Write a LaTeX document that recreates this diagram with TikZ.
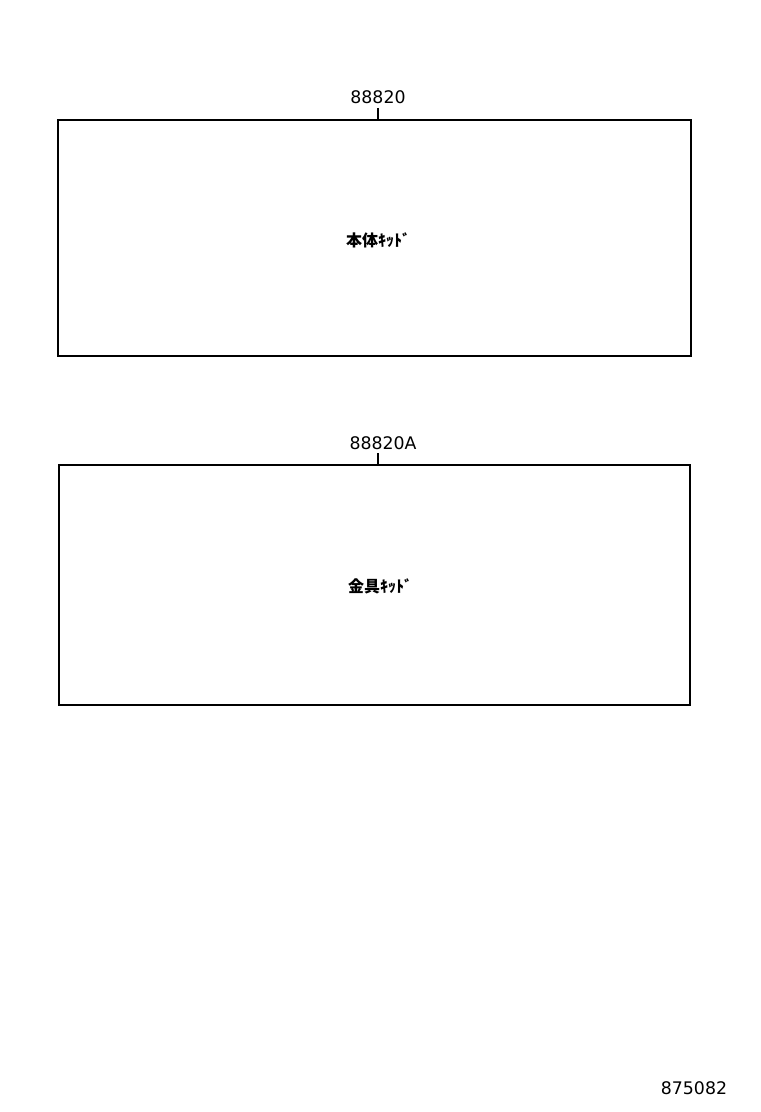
\documentclass[tikz,border=0pt]{standalone}
\usepackage{fontspec}
\setmainfont{DejaVu Sans}
\newfontfamily\cjk{Noto Sans CJK JP}
\begin{document}
\begin{tikzpicture}[x=0.75pt,y=-0.75pt,
  kitbox/.style={draw=black,line width=1.5pt},
  partno/.style={font=\fontsize{13pt}{15pt}\selectfont,inner sep=0pt,anchor=base},
  kitname/.style={font=\cjk\bfseries\fontsize{12pt}{14pt}\selectfont,inner sep=0pt},
  leader/.style={line width=1.5pt}]
\useasboundingbox[fill=white] (0,0) rectangle (760,1112);
% box 1
\draw[kitbox] (58,120) rectangle (691,356);
\node[partno] (p1) at (378,104) {88820};
\coordinate (t1) at (378,120);
\coordinate (l1) at (378,108);
\draw[leader] (l1) -- (t1);
\node[kitname] (k1) at (378,240) {本体ｷｯﾄﾞ};
% box 2
\draw[kitbox] (59,465) rectangle (690,705);
\draw[line width=2.2pt] (59,705) -- (690,705);
\node[partno] (p2) at (383,449) {88820A};
\coordinate (t2) at (378,465);
\coordinate (l2) at (378,453);
\draw[leader] (l2) -- (t2);
\node[kitname] (k2) at (380,586) {金具ｷｯﾄﾞ};
% figure number
\node[partno] (fig) at (694,1094) {875082};
\end{tikzpicture}
\end{document}
